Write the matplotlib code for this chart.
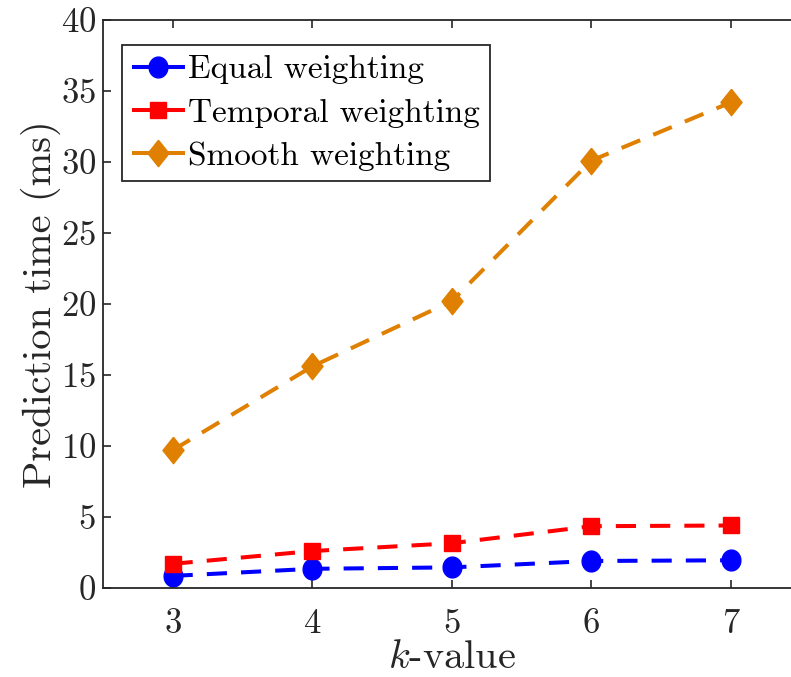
import numpy as np
import matplotlib
matplotlib.use("Agg")
import matplotlib.pyplot as plt

# data
k_values = [3, 4, 5, 6, 7]
equal_w = [0.85, 1.35, 1.45, 1.9, 1.95]
temporal_w = [1.7, 2.6, 3.15, 4.35, 4.4]
smooth_w = [9.7, 15.6, 20.2, 30.1, 34.2]
labels = ["Equal weighting", "Temporal weighting", "Smooth weighting"]
y_ticks = [0, 5, 10, 15, 20, 25, 30, 35, 40]


def main():
    plt.rcParams['font.family'] = ['cmr10', 'DejaVu Serif']
    plt.rcParams['mathtext.fontset'] = 'cm'
    plt.rcParams['axes.formatter.use_mathtext'] = True

    # slightly tall markers, like the reference
    th = np.linspace(0, 2 * np.pi, 40)
    ellipse = list(zip(0.9 * np.cos(th), np.sin(th)))
    diamond = [(0, 1), (0.8, 0), (0, -1), (-0.8, 0), (0, 1)]

    fig = plt.figure(figsize=(7.91, 6.77), dpi=100)
    ax = fig.add_axes([0.130, 0.1315, 0.8824, 0.839])

    kw = dict(linestyle='--', dashes=(5, 3.5), linewidth=2.9)
    ax.plot(k_values, equal_w, color='#0000FF', marker=ellipse,
            markersize=15, label=labels[0], **kw)
    ax.plot(k_values, temporal_w, color='#FF0000', marker='s',
            markersize=11, label=labels[1], **kw)
    ax.plot(k_values, smooth_w, color='#DF8000', marker=diamond,
            markersize=19, label=labels[2], **kw)

    ax.set_xlim(2.5, 7.5)
    ax.set_ylim(0, 40)
    ax.set_xticks(k_values)
    ax.set_yticks(y_ticks)
    ax.tick_params(direction='in', length=6, width=1.2, labelsize=25,
                   top=True, right=True, colors='#262626')
    ax.tick_params(axis='x', pad=15)
    ax.tick_params(axis='y', pad=5)
    for sp in ax.spines.values():
        sp.set_linewidth(1.3)
        sp.set_color('#262626')

    ax.set_xlabel('$k$-value', fontsize=29, labelpad=0, color='#262626')
    ax.set_ylabel('Prediction time (ms)', fontsize=29, labelpad=0, color='#262626')

    leg = ax.legend(loc='upper left', fontsize=24, handlelength=1.6,
                    handletextpad=0.1, borderpad=0.3, labelspacing=0.42,
                    borderaxespad=0, fancybox=False, framealpha=1,
                    edgecolor='#262626', bbox_to_anchor=(0.027, 0.956))
    leg.get_frame().set_linewidth(1.3)

    plt.savefig("out.png", dpi=100)


if __name__ == "__main__":
    main()
